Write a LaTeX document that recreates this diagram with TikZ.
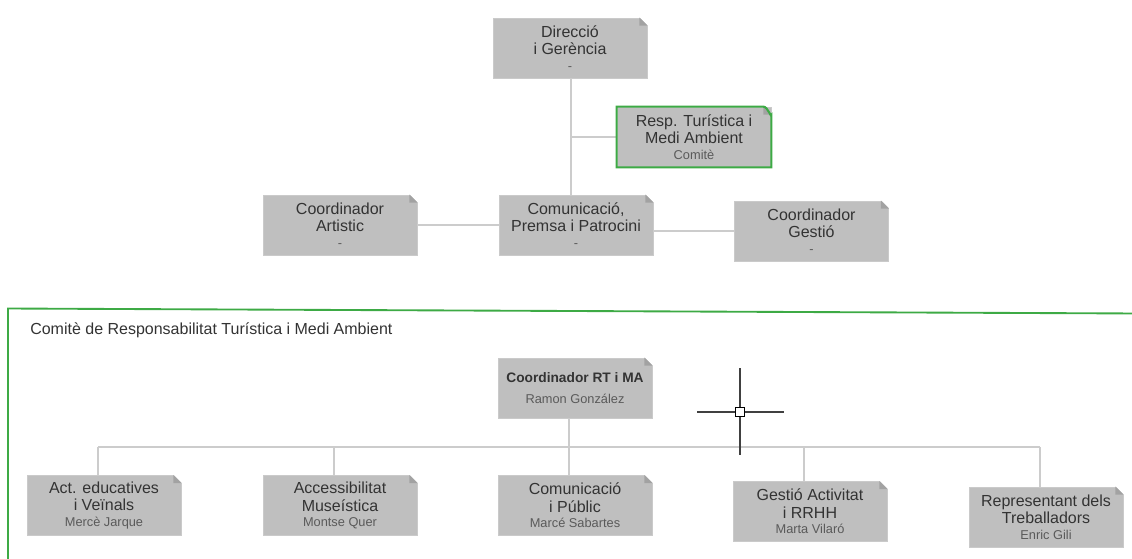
\documentclass[tikz,border=0pt]{standalone}
\usepackage{fontspec}
\setmainfont{Liberation Sans}
\usetikzlibrary{calc}
\definecolor{boxfill}{HTML}{BFBFBF}
\definecolor{boxedge}{HTML}{CACACA}
\definecolor{foldc}{HTML}{A2A2A2}
\definecolor{maintxt}{HTML}{333333}
\definecolor{subtxt}{HTML}{5A5A5A}
\definecolor{connc}{HTML}{CCCCCC}
\definecolor{frameg}{HTML}{3DAA45}
\tikzset{
  orgbox/.style={rectangle, fill=boxfill, draw=boxedge, line width=0.6pt,
    minimum width=115.5pt, minimum height=45pt, inner sep=0pt,
    align=center, text=maintxt,
    font=\fontsize{12}{13.2}\selectfont},
  conn/.style={draw=connc, line width=1.1pt},
}
\newcommand{\subt}[1]{{\fontsize{9.6}{11}\mdseries\selectfont\color{subtxt}#1}}
\newcommand{\foldcorner}[1]{%
  \fill[white] ($(#1.north east)+(-8,-0.5)$) -- ($(#1.north east)+(0.5,-0.5)$) -- ($(#1.north east)+(0.5,8)$) -- cycle;
  \fill[foldc] ($(#1.north east)+(-8,0)$) -- ($(#1.north east)+(0,8)$) -- ($(#1.north east)+(-8,8)$) -- cycle;}
\begin{document}
\begin{tikzpicture}[x=0.75pt,y=-0.75pt]
\useasboundingbox (0,0) rectangle (1132,558);
% top chart
\node[orgbox] (dir) at (570,48) {Direcció\\ i Gerència\\[-1.5pt]\subt{-}};
\node[orgbox] (resp) at (694,137) {Resp. Turística i\\ Medi Ambient\\[-1.5pt]\subt{Comitè}};
\node[orgbox] (art) at (340,225) {Coordinador\\ Artistic\\[-1.5pt]\subt{-}};
\node[orgbox] (com) at (576,225) {Comunicació,\\ Premsa i Patrocini\\[-1.5pt]\subt{-}};
\node[orgbox] (ges) at (811.5,231) {Coordinador\\ Gestió\\[-1.5pt]\subt{-}};
% connectors top
\coordinate (dtrunk) at ([xshift=0.75pt]dir.south);
\draw[conn] (dtrunk) -- (dtrunk |- com.north);
\draw[conn] (resp.west) -- (resp.west -| dtrunk);
\draw[conn] (art.east) -- (com.west);
\draw[conn] (ges.west) -- (ges.west -| com.east);
\foreach \n in {dir,art,com,ges}{\foldcorner{\n}}
% green border of resp
\fill[foldc] ($(resp.north east)+(-8,0)$) -- ($(resp.north east)+(0,8)$) -- ($(resp.north east)+(-8,8)$) -- cycle;
\draw[frameg, line width=1.6pt] (resp.south west) -- (resp.north west) -- ($(resp.north east)+(-8,0)$)
  to[out=0,in=-90] ($(resp.north east)+(0,8)$) -- (resp.south east) -- cycle;
% frame
\draw[frameg, line width=1.4pt] (8,560) -- (8,308.5) -- (1140,313.5);
\node[anchor=west, text=maintxt, font=\fontsize{12}{13}\selectfont, inner sep=0pt] (title) at (30,330) {Comitè de Responsabilitat Turística i Medi Ambient};
% bottom chart
\node[orgbox, font=\fontsize{10.3}{13}\bfseries] (coord) at (575,388) {Coordinador RT i MA\\[3pt]\subt{Ramon González}};
\node[orgbox] (act) at (104,505.5) {Act. educatives\\ i Veïnals\\[-1.5pt]\subt{Mercè Jarque}};
\node[orgbox] (acc) at (340,505.5) {Accessibilitat\\ Museística\\[-1.5pt]\subt{Montse Quer}};
\node[orgbox] (pub) at (575,505.5) {Comunicació\\ i Públic\\[-1.5pt]\subt{Marcé Sabartes}};
\node[orgbox] (rrhh) at (810,511.5) {Gestió Activitat\\ i RRHH\\[-1.5pt]\subt{Marta Vilaró}};
\node[orgbox] (treb) at (1046,517) {Representant dels\\ Treballadors\\[-1.5pt]\subt{Enric Gili}};
\coordinate (busL) at (98,447);
\coordinate (busR) at (1040,447);
\draw[conn] (busL) -- (busR);
\draw[conn] ([xshift=-4.5pt]coord.south) -- ([xshift=-4.5pt]coord.south |- busL);
\foreach \n in {act,acc,pub,rrhh,treb}{
  \draw[conn] ([xshift=-4.5pt]\n.north) -- ([xshift=-4.5pt]\n.north |- busL);
}
\foreach \n in {coord,act,acc,pub,rrhh,treb}{\foldcorner{\n}}
% cursor crosshair
\draw[black!75, line width=1.3pt] (697,412) -- (784,412);
\draw[black!75, line width=1.3pt] (740,368) -- (740,455);
\draw[black, line width=0.8pt, fill=white] (735.5,407.5) rectangle (744.5,416.5);
\end{tikzpicture}
\end{document}
